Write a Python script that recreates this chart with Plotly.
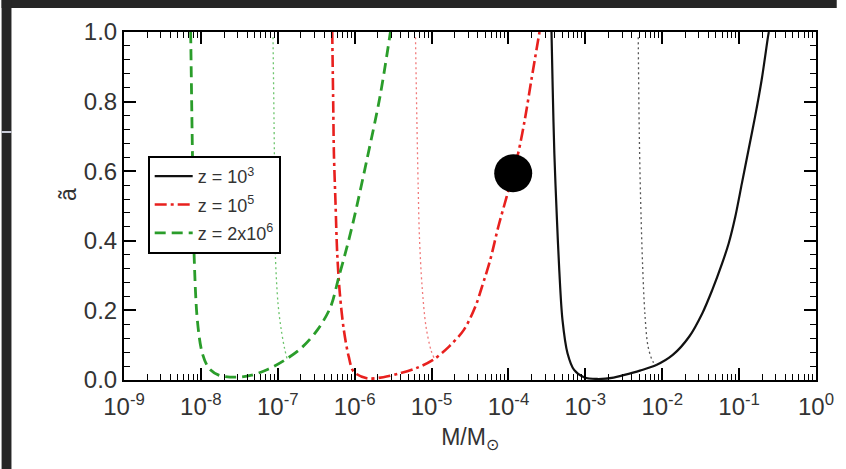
import plotly.graph_objects as go

# ---- curves: log10(M/Msun) and spin parameter a~ ----
z1e3_logm = [-3.440, -3.425, -3.403, -3.369, -3.339, -3.297, -3.232, -3.146, -3.018, -2.847,
             -2.633, -2.504, -2.290, -2.077, -1.863, -1.648, -1.478, -1.349, -1.221, -1.135,
             -1.050, -0.964, -0.878, -0.793, -0.707, -0.621, -0.613]
z1e3_a = [1.000, 0.843, 0.651, 0.460, 0.316, 0.172, 0.077, 0.029, 0.008, 0.003,
          0.007, 0.014, 0.027, 0.043, 0.072, 0.125, 0.192, 0.259, 0.335, 0.393,
          0.469, 0.565, 0.661, 0.756, 0.862, 0.991, 1.000]

z1e5_logm = [-6.292, -6.279, -6.270, -6.249, -6.227, -6.193, -6.141, -6.077, -6.013, -5.842,
             -5.628, -5.414, -5.200, -4.986, -4.773, -4.580, -4.430, -4.344, -4.237, -4.131,
             -4.023, -3.959, -3.874, -3.788, -3.702, -3.596]
z1e5_a = [1.000, 0.795, 0.651, 0.508, 0.364, 0.249, 0.144, 0.067, 0.024, 0.005,
          0.008, 0.019, 0.034, 0.057, 0.096, 0.144, 0.211, 0.268, 0.345, 0.441,
          0.527, 0.580, 0.651, 0.747, 0.862, 1.000]

z2e6_logm = [-8.133, -8.110, -8.089, -8.046, -7.982, -7.896, -7.768, -7.553, -7.340, -7.126,
             -6.911, -6.698, -6.484, -6.313, -6.205, -6.099, -6.013, -5.842, -5.671, -5.535]
z2e6_a = [1.000, 0.652, 0.365, 0.172, 0.077, 0.034, 0.014, 0.008, 0.014, 0.031,
          0.057, 0.091, 0.144, 0.210, 0.297, 0.383, 0.460, 0.632, 0.814, 1.000]

# thin dotted companions
dot1e3_logm = [-2.312, -2.299, -2.282, -2.256, -2.226, -2.184, -2.119, -2.077]
dot1e3_a = [0.985, 0.718, 0.527, 0.335, 0.192, 0.096, 0.052, 0.043]

dot1e5_logm = [-5.209, -5.191, -5.174, -5.158, -5.123, -5.072, -5.008, -4.965]
dot1e5_a = [0.985, 0.747, 0.556, 0.412, 0.268, 0.153, 0.086, 0.062]

dot2e6_logm = [-7.062, -7.049, -7.040, -7.032, -6.997, -6.955, -6.911, -6.880]
dot2e6_a = [0.985, 0.747, 0.556, 0.364, 0.220, 0.144, 0.090, 0.062]

# highlighted point
point_logm = [-3.938]
point_a = [0.594]

x_tick_exps = [-9, -8, -7, -6, -5, -4, -3, -2, -1, 0]
y_tick_vals = [0.0, 0.2, 0.4, 0.6, 0.8, 1.0]

BLACK = "#111111"
RED = "#e8201e"
GREEN = "#2a9d2a"
TXT = "#333333"
DARK = "#262626"
FONT = "Liberation Sans, Arial, sans-serif"
SMOOTH = 0.9

W, H = 846, 469
ML, MR, MT, MB = 124, 21, 32, 89


def mass(logm):
    return [10 ** v for v in logm]


def px_x(px):
    """pixel column -> paper x"""
    return (px - ML) / (W - ML - MR)


def px_y(py):
    """pixel row (from top) -> paper y"""
    return (H - MB - py) / (H - MT - MB)


fig = go.Figure()

fig.add_trace(go.Scatter(
    x=mass(z1e3_logm), y=z1e3_a, mode="lines", name="z = 10<sup>3</sup>",
    line=dict(color=BLACK, width=2.2, shape="spline", smoothing=SMOOTH),
    legendgroup="a", legendrank=1))
fig.add_trace(go.Scatter(
    x=mass(z1e5_logm), y=z1e5_a, mode="lines", name="z = 10<sup>5</sup>",
    line=dict(color=RED, width=2.6, dash="12px,4px,3px,4px", shape="spline", smoothing=SMOOTH),
    legendgroup="b", legendrank=2))
fig.add_trace(go.Scatter(
    x=mass(z2e6_logm), y=z2e6_a, mode="lines", name="z = 2x10<sup>6</sup>",
    line=dict(color=GREEN, width=2.8, dash="11px,6px", shape="spline", smoothing=SMOOTH),
    legendgroup="c", legendrank=3))

fig.add_trace(go.Scatter(
    x=mass(dot1e3_logm), y=dot1e3_a, mode="lines", showlegend=False,
    line=dict(color="#555555", width=1.3, dash="2px,3px", shape="spline", smoothing=SMOOTH)))
fig.add_trace(go.Scatter(
    x=mass(dot1e5_logm), y=dot1e5_a, mode="lines", showlegend=False,
    line=dict(color="#f07a7a", width=1.3, dash="2px,3px", shape="spline", smoothing=SMOOTH)))
fig.add_trace(go.Scatter(
    x=mass(dot2e6_logm), y=dot2e6_a, mode="lines", showlegend=False,
    line=dict(color="#6cc46c", width=1.3, dash="2px,3px", shape="spline", smoothing=SMOOTH)))

fig.add_trace(go.Scatter(
    x=mass(point_logm), y=point_a, mode="markers", showlegend=False,
    marker=dict(color="black", size=38, line=dict(width=0))))

minor_x = [m * 10 ** e for e in range(-9, 0) for m in range(2, 10)]

axis_common = dict(
    showline=True, linecolor="black", linewidth=2, mirror="allticks",
    ticks="inside", ticklen=12, tickwidth=1.5, tickcolor="black",
    showgrid=False, zeroline=False,
    tickfont=dict(family=FONT, size=24, color=TXT),
)

fig.update_xaxes(
    type="log", range=[-9, 0],
    tickmode="array", tickvals=[10 ** e for e in x_tick_exps],
    ticktext=[f"10<sup>{e}</sup>" for e in x_tick_exps],
    ticklabelstandoff=4,
    minor=dict(tickmode="array", tickvals=minor_x, ticks="inside", ticklen=6,
               tickwidth=1.3, tickcolor="black", showgrid=False),
    title=dict(text="M/M<sub>⊙</sub>", standoff=10,
               font=dict(family=FONT, size=23, color=TXT)),
    **axis_common)

fig.update_yaxes(
    range=[0, 1], tickmode="array", tickvals=y_tick_vals,
    ticktext=[f"{v:.1f}" for v in y_tick_vals],
    minor=dict(dtick=0.04, tick0=0, ticks="inside", ticklen=6,
               tickwidth=1.3, tickcolor="black", showgrid=False),
    **axis_common)

# rotated y-axis label
fig.add_annotation(
    text="ã", xref="paper", yref="paper", x=px_x(52), y=0.534,
    showarrow=False, textangle=-90,
    font=dict(family=FONT, size=23, color=TXT))

# dark slide surround on the top and left edges (kept inside the figure)
fig.add_shape(type="rect", xref="paper", yref="paper",
              x0=px_x(0), x1=px_x(W), y0=px_y(8), y1=px_y(0),
              fillcolor=DARK, line=dict(width=0))
fig.add_shape(type="rect", xref="paper", yref="paper",
              x0=px_x(0), x1=px_x(10), y0=px_y(H), y1=px_y(0),
              fillcolor=DARK, line=dict(width=0))
fig.add_shape(type="line", xref="paper", yref="paper",
              x0=px_x(0), x1=px_x(10), y0=px_y(132), y1=px_y(132),
              line=dict(color="#c9cbd8", width=2))

fig.update_layout(
    width=W, height=H,
    margin=dict(l=ML, r=MR, t=MT, b=MB),
    paper_bgcolor="white", plot_bgcolor="white",
    showlegend=True,
    legend=dict(
        x=px_x(148), y=0.644, xanchor="left", yanchor="top",
        bordercolor="black", borderwidth=2, bgcolor="white",
        font=dict(family=FONT, size=18, color=TXT),
        traceorder="grouped", tracegroupgap=2, itemwidth=38,
    ),
)

page_css = (
    "var r=document.documentElement,b=document.body;"
    "r.style.background='white';b.style.background='white';"
    "r.style.overflow='hidden';b.style.overflow='hidden';b.style.margin='0';"
)

fig.write_html("out.html", config={"responsive": False}, post_script=page_css)
